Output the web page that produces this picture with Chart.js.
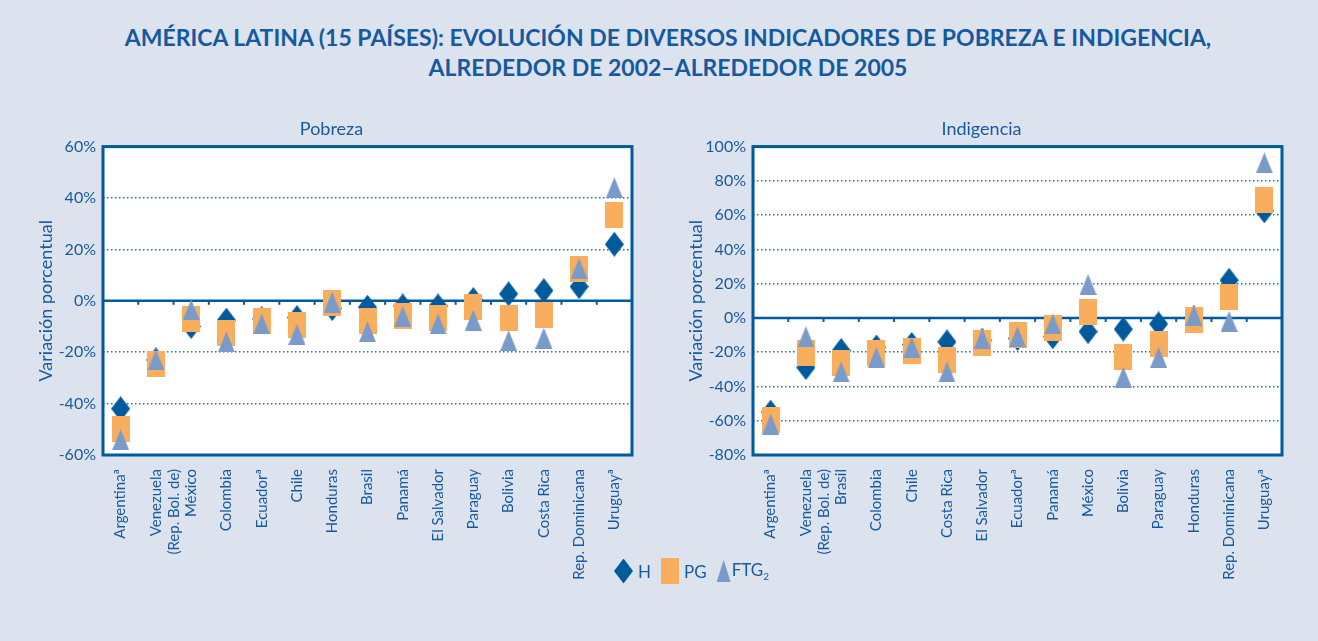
<!DOCTYPE html>
<html>
<head>
<meta charset="utf-8">
<script src="https://cdn.jsdelivr.net/npm/chart.js@4.4.1/dist/chart.umd.min.js"></script>
<style>
  body { margin: 0; width: 1318px; height: 641px; overflow: hidden; background: #dde3ee; font-family: Lato, sans-serif; position: relative; }
  #title { position: absolute; top: 22px; left: 0; width: 1336px; text-align: center; color: #17599f; font-weight: bold; font-size: 23px; line-height: 30px; }
  #c1 { position: absolute; left: 0; top: 100px; }
  #c2 { position: absolute; left: 655px; top: 100px; }
  #legend { position: absolute; left: 614px; top: 557px; height: 28px; display: flex; align-items: center; color: #17599f; font-size: 17px; }
  #legend .dia { width: 19px; height: 25px; background: #005a9c; clip-path: polygon(50% 0, 100% 50%, 50% 100%, 0 50%); }
  #legend .sq { width: 18px; height: 26px; background: #f9ae5e; }
  #legend .tri { width: 14px; height: 22px; background: #7a9bc9; clip-path: polygon(50% 0, 100% 100%, 0 100%); }
  #legend span.t { margin: 0 10px 0 5px; }
  #legend sub { font-size: 10px; }
</style>
</head>
<body>
<div id="title">AMÉRICA LATINA (15 PAÍSES): EVOLUCIÓN DE DIVERSOS INDICADORES DE POBREZA E INDIGENCIA,<br>ALREDEDOR DE 2002–ALREDEDOR DE 2005</div>
<canvas id="c1" width="655" height="500"></canvas>
<canvas id="c2" width="663" height="500"></canvas>
<div id="legend">
  <div class="dia"></div><span class="t">H</span>
  <div class="sq"></div><span class="t">PG</span>
  <div class="tri"></div><span class="t" style="margin-left:1px">FTG<sub>2</sub></span>
</div>
<script>
// Data
const seriesNames = ['H', 'PG', 'FTG2'];

const pobrezaLabels = ['Argentinaª', ['Venezuela', '(Rep. Bol. de)'], 'México', 'Colombia', 'Ecuadorª', 'Chile', 'Honduras', 'Brasil', 'Panamá', 'El Salvador', 'Paraguay', 'Bolivia', 'Costa Rica', 'Rep. Dominicana', 'Uruguayª'];
const pobrezaH   = [-42, -23, -10, -7.5, -7, -6.5, -3, -2.5, -2, -2, 0.5, 2.7, 4, 5.5, 22];
const pobrezaPG  = [-50, -24.5, -7, -12.5, -8, -9.5, -1, -8, -6, -6.5, -2.5, -6.5, -5.5, 12.5, 33.5];
const pobrezaFTG = [-54, -23, -3.5, -16, -9, -13, -0.5, -12, -6, -9, -7.5, -15.5, -14.5, 12.5, 44];

const indigLabels = ['Argentinaª', ['Venezuela', '(Rep. Bol. de)'], 'Brasil', 'Colombia', 'Chile', 'Costa Rica', 'El Salvador', 'Ecuadorª', 'Panamá', 'México', 'Bolivia', 'Paraguay', 'Honduras', 'Rep. Dominicana', 'Uruguayª'];
const indigH   = [-55, -29, -19, -17, -15.5, -14, -13, -12, -11, -8, -6.5, -3.5, 0, 22, 62.5];
const indigPG  = [-59.5, -20.5, -26.5, -20.5, -19.5, -24.5, -14.5, -10, -6, 3.5, -23, -15, -1, 12.5, 69];
const indigFTG = [-62, -11, -31.5, -23, -17, -31.5, -12, -11, -3.5, 19.5, -34.5, -23, 1.5, -2, 90.5];

// Style
const BLUE = '#005a9c';
const ORANGE = '#f9ae5e';
const LIGHT_BLUE = '#7a9bc9';
const TEXT = '#17599f';

function marker(shape, w, h, color) {
	const c = document.createElement('canvas');
	c.width = w; c.height = h;
	const g = c.getContext('2d');
	g.fillStyle = color;
	g.beginPath();
	if (shape === 'diamond') {
		g.moveTo(w / 2, 0); g.lineTo(w, h / 2); g.lineTo(w / 2, h); g.lineTo(0, h / 2);
	} else if (shape === 'triangle') {
		g.moveTo(w / 2, 0); g.lineTo(w, h); g.lineTo(0, h);
	} else {
		g.rect(0, 0, w, h);
	}
	g.closePath();
	g.fill();
	return c;
}

const diamondImg = marker('diamond', 19, 25, BLUE);
const squareImg = marker('rect', 18, 26, ORANGE);
const triangleImg = marker('triangle', 17, 21, LIGHT_BLUE);

// white plot area, zero line with small ticks, frame
const plotFrame = {
	id: 'plotFrame',
	beforeDraw(chart) {
		const { ctx, chartArea: a } = chart;
		ctx.save();
		ctx.fillStyle = '#fff';
		ctx.fillRect(a.left, a.top, a.width, a.height);
		ctx.restore();
	},
	beforeDatasetsDraw(chart) {
		const { ctx, chartArea: a, scales: { x, y } } = chart;
		const y0 = y.getPixelForValue(0);
		ctx.save();
		ctx.strokeStyle = BLUE;
		ctx.lineWidth = 2.5;
		ctx.beginPath();
		ctx.moveTo(a.left, y0); ctx.lineTo(a.right, y0);
		ctx.stroke();
		ctx.lineWidth = 2;
		for (let i = 0; i < x.ticks.length - 1; i++) {
			const px = (x.getPixelForValue(i) + x.getPixelForValue(i + 1)) / 2;
			ctx.beginPath();
			ctx.moveTo(px, y0); ctx.lineTo(px, y0 + 4);
			ctx.stroke();
		}
		ctx.restore();
	},
	afterDraw(chart) {
		const { ctx, chartArea: a } = chart;
		ctx.save();
		ctx.strokeStyle = BLUE;
		ctx.lineWidth = 3;
		ctx.strokeRect(a.left, a.top, a.width, a.height);
		ctx.restore();
	}
};

function makeChart(id, title, labels, h, pg, ftg, min, max, padLeft, padRight) {
	const ds = (label, data, img, order) => ({
		label, data, pointStyle: img, pointRadius: 10, pointHoverRadius: 10,
		showLine: false, order, clip: false
	});
	return new Chart(document.getElementById(id), {
		type: 'line',
		data: {
			labels,
			datasets: [
				ds(seriesNames[0], h, diamondImg, 3),
				ds(seriesNames[1], pg, squareImg, 2),
				ds(seriesNames[2], ftg, triangleImg, 1)
			]
		},
		options: {
			responsive: false,
			animation: false,
			layout: { padding: { left: padLeft, right: padRight, top: 0, bottom: 0 } },
			plugins: {
				legend: { display: false },
				tooltip: { enabled: false },
				title: {
					display: true, text: title, color: TEXT,
					font: { family: 'Lato', size: 18, weight: 'normal' },
					padding: { top: 18, bottom: 7 }
				}
			},
			scales: {
				x: {
					offset: true,
					grid: { display: false },
					border: { display: false },
					ticks: {
						color: TEXT, font: { family: 'Lato', size: 15 },
						minRotation: 90, maxRotation: 90, autoSkip: false, padding: 6
					},
					afterFit: (s) => { s.height = 145; }
				},
				y: {
					min, max,
					grid: {
						drawTicks: false, lineWidth: 1.5,
						color: (c) => (c.tick.value === 0 || c.tick.value === max || c.tick.value === min) ? 'transparent' : '#2a6fae'
					},
					border: { display: false, dash: [1.5, 2.5] },
					ticks: {
						stepSize: 20, color: TEXT, font: { family: 'Lato', size: 16 }, padding: 7,
						callback: (v) => v + '%'
					},
					title: {
						display: true, text: 'Variación porcentual', color: TEXT,
						font: { family: 'Lato', size: 18 }
					},
					afterFit: (s) => { s.width = 72; }
				}
			}
		},
		plugins: [plotFrame]
	});
}

makeChart('c1', 'Pobreza', pobrezaLabels, pobrezaH, pobrezaPG, pobrezaFTG, -60, 60, 31, 23);
makeChart('c2', 'Indigencia', indigLabels, indigH, indigPG, indigFTG, -80, 100, 26, 36);
</script>
</body>
</html>
